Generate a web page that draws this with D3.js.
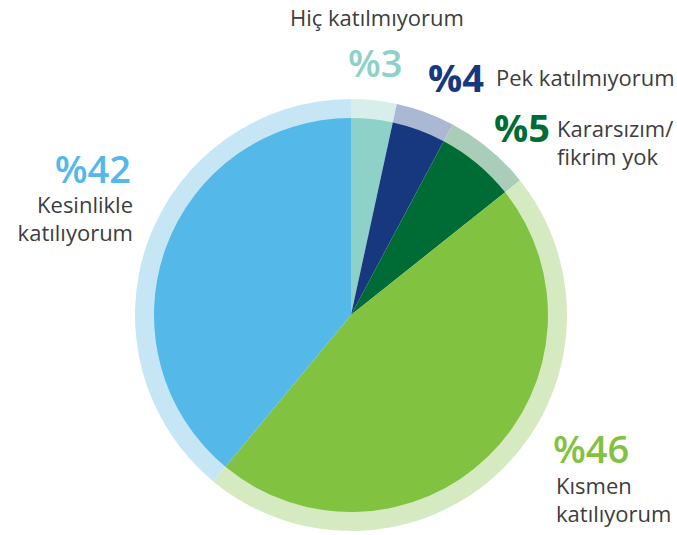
<!DOCTYPE html>
<html>
<head>
<meta charset="utf-8">
<script src="https://cdn.jsdelivr.net/npm/d3@7"></script>
<style>
  body { margin: 0; background: #fff; }
  svg { display: block; font-family: "Open Sans", sans-serif; }
</style>
</head>
<body>
<svg width="677" height="535"></svg>
<script>
// answer categories, clockwise from 12 o'clock
const categories = ["Hiç katılmıyorum", "Pek katılmıyorum", "Kararsızım/ fikrim yok", "Kısmen katılıyorum", "Kesinlikle katılıyorum"];
// printed percentages
const percents = [3, 4, 5, 46, 42];
// slice sizes as drawn in the original (they are not exactly proportional to the labels)
const sliceShares = [3.4, 4.4, 6.5, 46.7, 39.0];

const colors = ["#8dd1c8", "#17377e", "#006c35", "#82c241", "#54b9e8"];
const ringColors = ["#d7eeeb", "#abb8d3", "#a9cdb9", "#d5eac0", "#c6e6f6"];

const width = 677;
const height = 535;
const cx = 351;
const cy = 315;
const rInner = 197;
const rOuter = 216;

const svg = d3.select("svg");
const g = svg.append("g").attr("transform", `translate(${cx},${cy})`);

const pie = d3.pie().sort(null).value(d => d);
const arcs = pie(sliceShares);

const ring = d3.arc().innerRadius(rInner - 1).outerRadius(rOuter);
const slice = d3.arc().innerRadius(0).outerRadius(rInner);

g.selectAll("path.ring")
  .data(arcs)
  .join("path")
  .attr("class", "ring")
  .attr("d", ring)
  .attr("fill", (d, i) => ringColors[i]);

g.selectAll("path.slice")
  .data(arcs)
  .join("path")
  .attr("class", "slice")
  .attr("d", slice)
  .attr("fill", (d, i) => colors[i]);

// label layout: number position, text lines and where they go
const labelLayout = [
  { num: [348, 77, "start", 600], lines: ["Hiç katılmıyorum"], text: [290, 26, "start"] },
  { num: [428, 92, "start", 700], lines: ["Pek katılmıyorum"], text: [496, 86, "start"] },
  { num: [494, 142, "start", 700], lines: ["Kararsızım/", "fikrim yok"], text: [557, 137, "start"] },
  { num: [553, 463, "start", 600], lines: ["Kısmen", "katılıyorum"], text: [556, 494, "start"] },
  { num: [131, 183, "end", 600], lines: ["Kesinlikle", "katılıyorum"], text: [133, 213, "end"] }
];

const lineH = 28;

labelLayout.forEach((L, i) => {
  svg.append("text")
    .attr("x", L.num[0])
    .attr("y", L.num[1])
    .attr("text-anchor", L.num[2])
    .attr("font-size", 38)
    .attr("font-weight", L.num[3])
    .attr("fill", colors[i])
    .text("%" + percents[i]);

  const t = svg.append("text")
    .attr("x", L.text[0])
    .attr("y", L.text[1])
    .attr("text-anchor", L.text[2])
    .attr("font-size", 22)
    .attr("fill", "#3d3d3d");
  t.selectAll("tspan")
    .data(L.lines)
    .join("tspan")
    .attr("x", L.text[0])
    .attr("dy", (d, j) => j === 0 ? 0 : lineH)
    .text(d => d);
});
</script>
</body>
</html>
